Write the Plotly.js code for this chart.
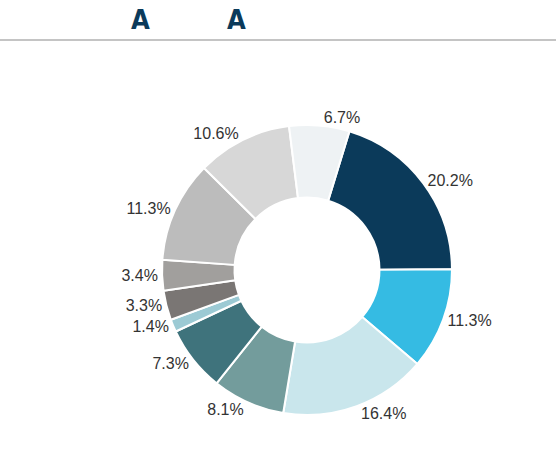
<!DOCTYPE html>
<html>
<head>
<meta charset="utf-8">
<script src="https://cdn.plot.ly/plotly-3.0.1.min.js"></script>
<style>html,body{margin:0;padding:0;background:#fff;}#chart{width:556px;height:472px;}</style>
</head>
<body>
<div id="chart"></div>
<script>
const categories = ["S1","S2","S3","S4","S5","S6","S7","S8","S9","S10","S11"];
const shares = [20.2, 11.3, 16.4, 8.1, 7.3, 1.4, 3.3, 3.4, 11.3, 10.6, 6.7];
const colors = ["#0b3a5a","#35bbe3","#c9e6ec","#739c9c","#3f737c","#9ccad4","#7a7674","#a19f9d","#bcbcbc","#d7d7d7","#eef2f4"];
const titleLetters = ["A","A"];

const trace = {
  type: "pie",
  labels: categories,
  values: shares,
  sort: false,
  direction: "clockwise",
  rotation: 17,
  hole: 0.5,
  marker: {colors: colors, line: {color: "#ffffff", width: 2}},
  textposition: "outside",
  texttemplate: "%{value:.1f}%",
  textfont: {family: "Liberation Sans, Arial, sans-serif", size: 16, color: "#333333"},
  outsidetextfont: {family: "Liberation Sans, Arial, sans-serif", size: 16, color: "#333333"},
  domain: {x: [0.2914, 0.8129], y: [0.1208, 0.7352]},
  showlegend: false,
  automargin: false
};

const titleFont = {family: "DejaVu Sans Condensed, DejaVu Sans, sans-serif", size: 27, color: "#0b3a5a", weight: "bold"};

const layout = {
  width: 556, height: 472,
  margin: {l: 0, r: 0, t: 0, b: 0},
  paper_bgcolor: "#ffffff",
  showlegend: false,
  shapes: [{type: "line", xref: "paper", yref: "paper", x0: 0, x1: 1, y0: 0.915, y1: 0.915, line: {color: "#b0b0b0", width: 1.5}}],
  annotations: [
    {text: titleLetters[0], xref: "paper", yref: "paper", x: 0.252, y: 0.958, xanchor: "center", yanchor: "middle", showarrow: false, font: titleFont},
    {text: titleLetters[1], xref: "paper", yref: "paper", x: 0.426, y: 0.958, xanchor: "center", yanchor: "middle", showarrow: false, font: titleFont}
  ]
};

Plotly.newPlot("chart", [trace], layout, {staticPlot: true, displayModeBar: false});
</script>
</body>
</html>
